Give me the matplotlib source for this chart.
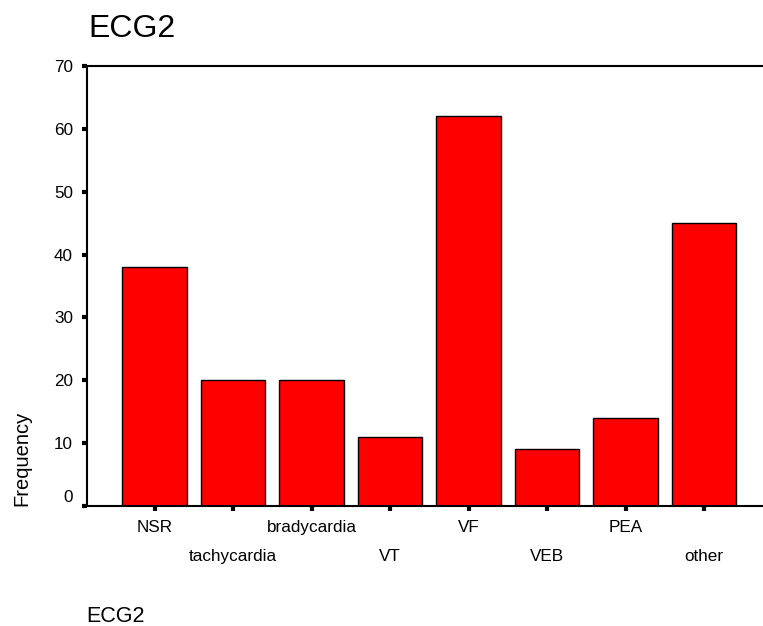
import matplotlib
matplotlib.use('Agg')
import matplotlib.pyplot as plt
import matplotlib.transforms as mtransforms
import numpy as np

plt.rcParams['font.family'] = ['Liberation Sans', 'DejaVu Sans']

# data
categories = ['NSR', 'tachycardia', 'bradycardia', 'VT', 'VF', 'VEB', 'PEA', 'other']
counts = [38, 20, 20, 11, 62, 9, 14, 45]
y_ticks = [0, 10, 20, 30, 40, 50, 60, 70]


def draw_chart(cats, vals):
    fig = plt.figure(figsize=(7.63, 6.26), dpi=100)
    ax = fig.add_axes([87 / 763, 1 - 506 / 626, 1 - 87 / 763, 440 / 626])

    x = np.arange(len(cats))
    ax.bar(x, vals, width=0.82, color='#ff0000', edgecolor='black', linewidth=1.0)
    ax.set_xlim(-0.86, 7.75)
    ax.set_ylim(0, 70)

    # spss style frame: left, bottom and top line, no right line
    for side in ['left', 'bottom', 'top']:
        ax.spines[side].set_linewidth(1.5)
    ax.spines['right'].set_visible(False)

    ax.set_xticks(x)
    ax.set_xticklabels([''] * len(cats))
    ax.set_yticks(y_ticks)
    ax.set_yticklabels([''] + [str(v) for v in y_ticks[1:]])
    ax.tick_params(axis='both', direction='out', length=3.6, width=3, labelsize=12.3)
    ax.tick_params(axis='y', pad=6.5)

    # the zero label sits a bit higher than its tick
    zero_tr = mtransforms.offset_copy(ax.get_yaxis_transform(), fig=fig, x=-14, y=9, units='dots')
    ax.text(0, 0, '0', transform=zero_tr, ha='right', va='center', fontsize=12.3)

    # staggered category labels, two rows
    xt = ax.get_xaxis_transform()
    for i, name in enumerate(cats):
        ypos = -26 / 440 if i % 2 == 0 else -55 / 440
        ax.text(i, ypos, name, transform=xt, ha='center', va='baseline', fontsize=12.3)

    fig.text(88 / 763, 1 - 37 / 626, 'ECG2', fontsize=23, ha='left', va='baseline')
    fig.text(86 / 763, 1 - 622 / 626, 'ECG2', fontsize=15.5, ha='left', va='baseline')
    fig.text(22 / 763, 1 - 506 / 626, 'Frequency', fontsize=14.5, rotation=90,
             ha='center', va='bottom')

    fig.savefig('out.png', dpi=100)


if __name__ == '__main__':
    draw_chart(categories, counts)
